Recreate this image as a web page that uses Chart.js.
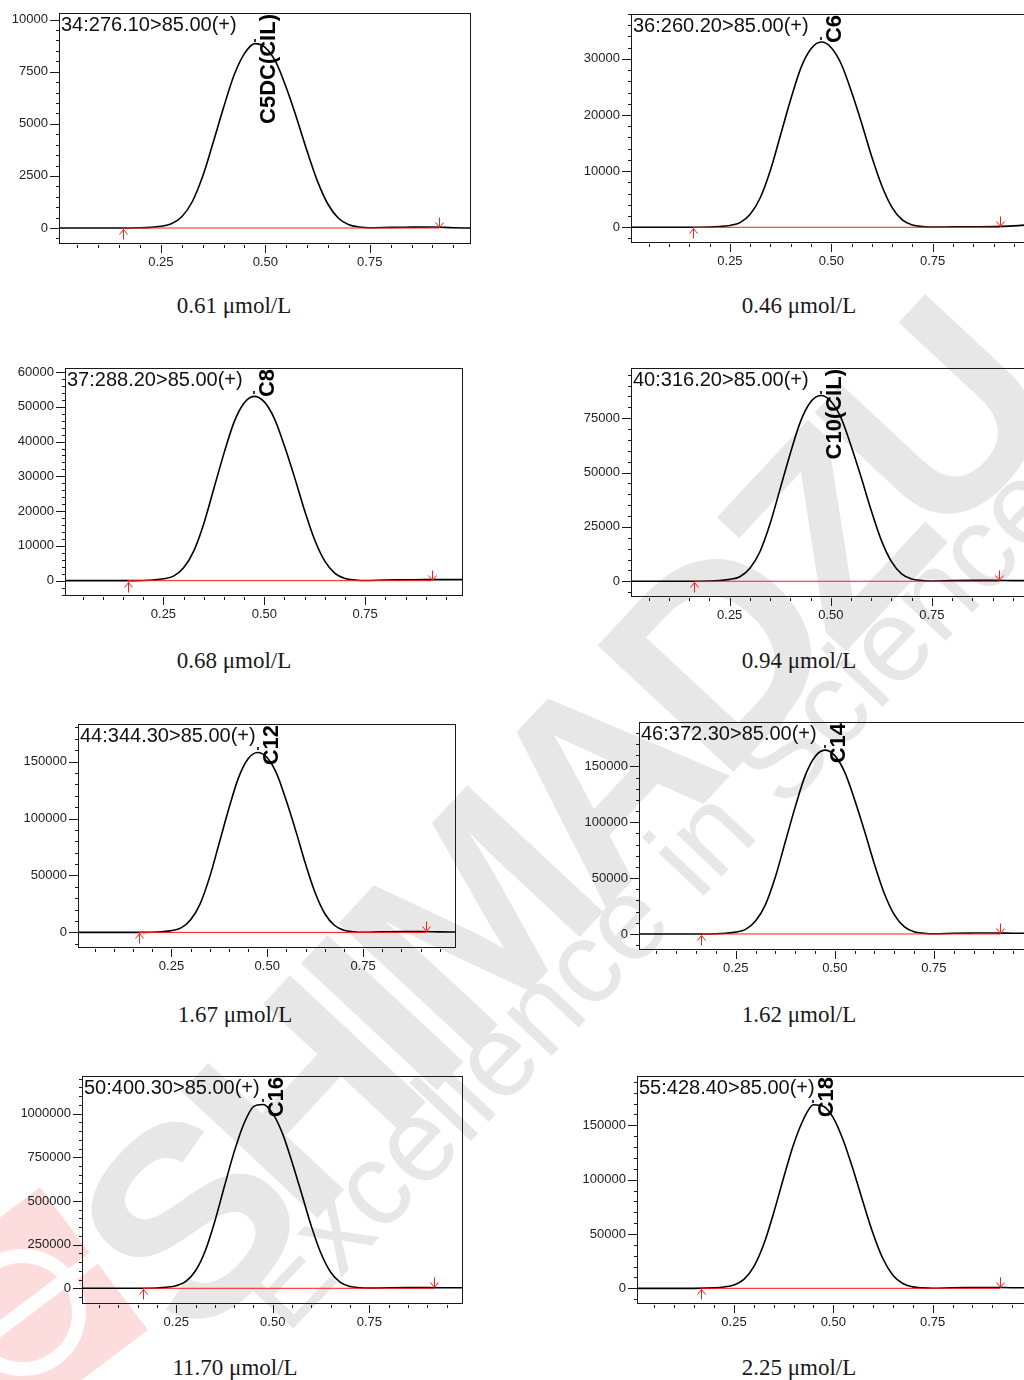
<!DOCTYPE html>
<html>
<head>
<meta charset="utf-8">
<script src="https://cdn.jsdelivr.net/npm/chart.js@4.4.1/dist/chart.umd.min.js"></script>
<style>
html,body{margin:0;padding:0;background:#fff;}
body{width:1024px;height:1380px;position:relative;overflow:hidden;}
.wm{position:absolute;white-space:nowrap;color:#e7e7e7;font-family:'Liberation Sans',Arial,sans-serif;line-height:1;transform-origin:0 50%;}
canvas{position:absolute;}
.cap{position:absolute;font-family:'Liberation Serif','Times New Roman',serif;font-size:23px;line-height:23px;color:#1a1a1a;transform:translateX(-50%);white-space:nowrap;}
#logo{position:absolute;left:-67px;top:1223px;width:179px;height:179px;background:#fcdcdc;transform:rotate(53deg);}
#logo .ring{position:absolute;left:26px;top:26px;width:99px;height:99px;border:14px solid #fff;border-radius:50%;}
#logo .bar{position:absolute;left:82px;top:0;width:14px;height:179px;background:#fff;}
</style>
</head>
<body>
<div id="logo"><div class="ring"></div><div class="bar"></div></div>
<div class="wm" style="left:128px;top:1150px;font-size:270px;letter-spacing:-20px;font-weight:bold;transform:rotate(-47deg);">SHIMADZU</div>
<div class="wm" style="left:257px;top:1249px;font-size:117px;transform:rotate(-46.5deg);">Excellence in Science</div>
<script>
// ---------- data ----------
const retentionTime = [0.00,0.05,0.10,0.15,0.20,0.225,0.25,0.275,0.30,0.325,0.35,0.375,0.40,0.425,0.45,0.475,0.50,0.525,0.55,0.575,0.60,0.625,0.65,0.675,0.70,0.725,0.75,0.80,0.85,0.90,0.95,0.99];

const intensityC5DC = [0,0,0,0,10,30,80,200,540,1260,2480,4100,5780,7330,8370,8850,8660,7970,6740,5270,3690,2240,1140,470,160,50,15,30,40,50,10,0];
const intensityC6   = [0,0,0,0,30,130,330,830,2300,5300,10200,16500,22800,28400,31800,33000,32000,29000,24100,18500,12500,7300,3500,1300,400,130,30,80,100,120,250,450];
const intensityC8   = [0,0,0,0,50,210,530,1300,3700,8500,16400,26500,36600,45600,51100,53000,51400,46600,38700,29700,20100,11700,5600,2100,640,210,50,200,250,300,300,300];
const intensityC10  = [0,0,0,0,90,340,850,2100,6000,13700,26500,42700,58900,73400,82400,85400,82800,75200,62300,47800,32500,18800,9000,3400,1000,340,90,300,400,400,300,300];
const intensityC12  = [0,0,0,0,160,630,1600,4000,11100,25300,49000,79000,109000,135900,152500,158000,153300,139000,115300,88500,60000,34800,16600,6300,1900,630,160,600,800,800,500,400];
const intensityC14  = [0,0,0,0,170,660,1650,4100,11500,26300,51000,82300,113500,141500,158700,164500,159600,144800,120100,92100,62500,36200,17300,6600,2000,660,170,600,800,900,700,600];
const intensityC16  = [0,0,0,0,2100,6000,14800,40200,100500,213700,384000,585000,780800,940600,1040000,1052000,999800,886600,721600,539600,354400,198900,92000,33900,10400,3600,1100,3000,4000,4000,3000,3000];
const intensityC18  = [0,0,0,0,440,1190,3060,8160,19900,40500,69500,101800,132300,155600,169000,167500,156900,136300,109100,79200,50500,27200,12100,4400,1360,430,90,600,700,800,600,600];

const peakNames = ["C5DC(CIL)","C6","C8","C10(CIL)","C12","C14","C16","C18"];
const transitions = ["34:276.10>85.00(+)","36:260.20>85.00(+)","37:288.20>85.00(+)","40:316.20>85.00(+)","44:344.30>85.00(+)","46:372.30>85.00(+)","50:400.30>85.00(+)","55:428.40>85.00(+)"];
const concentrations = ["0.61 μmol/L","0.46 μmol/L","0.68 μmol/L","0.94 μmol/L","1.67 μmol/L","1.62 μmol/L","11.70 μmol/L","2.25 μmol/L"];
const baselineStart = [0.159,0.159,0.161,0.161,0.164,0.1635,0.164,0.166];
const baselineEnd   = [0.916,0.9155,0.9145,0.917,0.915,0.918,0.917,0.919];
const yMin = [-720,-2625,-4120,-6780,-12800,-13460,-84100,-13500];
const yMax = [10320,38000,61150,98050,183000,189700,1215000,195400];
const yMajorStep = [2500,10000,10000,25000,50000,50000,250000,50000];
const yMinorStep = [500,2000,2000,5000,10000,10000,50000,10000];
const xMin = 0.006, xMax = 0.99, xMinorStep = 0.05, xMajorStep = 0.25;
const xTickLabels = ["0.25","0.50","0.75"];

const intensities = [intensityC5DC,intensityC6,intensityC8,intensityC10,intensityC12,intensityC14,intensityC16,intensityC18];

// ---------- layout (positions/sizes only) ----------
const panelBox = [ // left, top, width, height of plot frame
  [59,13,411,230],
  [631,14,399,228],
  [65,368,397,227],
  [631,368,398,228],
  [78,724,377,223],
  [639,722,390,227],
  [82,1076,380,227],
  [637,1076,391,227]
];
const captionPos = [[234,313],[799,313],[234,668],[799,668],[235,1022],[799,1022],[235,1375],[799,1375]];

const FONT = "'Liberation Sans', Arial, sans-serif";
const isMult = (v, step) => Math.abs(v/step - Math.round(v/step)) < 1e-6;

function stepTicks(min, max, step) {
  const out = [];
  for (let k = Math.ceil(min/step - 1e-9); k * step <= max + 1e-9; k++) {
    out.push({value: Math.round(k * step * 1e6) / 1e6});
  }
  return out;
}

const framePlugin = {
  id: 'frame',
  afterDraw(chart) {
    const i = chart.options.plugins.frame.index;
    const {ctx, chartArea: a, scales: {x, y}} = chart;
    ctx.save();
    const line = (x1,y1,x2,y2) => { ctx.beginPath(); ctx.moveTo(x1,y1); ctx.lineTo(x2,y2); ctx.stroke(); };
    // frame
    ctx.strokeStyle = '#1a1a1a'; ctx.lineWidth = 1;
    ctx.strokeRect(Math.round(a.left)+0.5, Math.round(a.top)+0.5, Math.round(a.right-a.left), Math.round(a.bottom-a.top));
    // y ticks
    y.ticks.forEach(t => {
      const py = Math.round(y.getPixelForValue(t.value)) + 0.5;
      const len = isMult(t.value, yMajorStep[i]) ? 9 : 3;
      line(Math.round(a.left) - len, py, Math.round(a.left), py);
    });
    // x ticks
    x.ticks.forEach(t => {
      const px = Math.round(x.getPixelForValue(t.value)) + 0.5;
      const len = isMult(t.value, xMajorStep) ? 8 : 3;
      const b = Math.round(a.bottom) + 2;
      line(px, b, px, b + len);
    });
    // baseline arrows
    ctx.strokeStyle = '#ff1a1a';
    const y0 = Math.round(y.getPixelForValue(0)) + 0.5;
    const xs = Math.round(x.getPixelForValue(baselineStart[i])) + 0.5;
    line(xs, y0+11, xs, y0+1); line(xs-4, y0+6, xs, y0+1); line(xs+4, y0+6, xs, y0+1);
    const xe = Math.round(x.getPixelForValue(baselineEnd[i])) + 0.5;
    line(xe, y0-11, xe, y0-1); line(xe-4, y0-6, xe, y0-1); line(xe+4, y0-6, xe, y0-1);
    // title
    ctx.fillStyle = '#111';
    ctx.font = '20px ' + FONT;
    ctx.textBaseline = 'alphabetic'; ctx.textAlign = 'left';
    ctx.fillText(transitions[i], a.left + 2, a.top + 18);
    // peak label
    const vals = intensities[i];
    let k = 0; vals.forEach((v, j) => { if (v > vals[k]) k = j; });
    const px = x.getPixelForValue(retentionTime[k]);
    const py = y.getPixelForValue(vals[k]);
    ctx.fillStyle = '#1f2a80';
    ctx.fillRect(Math.round(px) - 1, Math.round(py) - 5, 2, 3);
    ctx.save();
    ctx.translate(px + 20, a.top + 1);
    ctx.rotate(-Math.PI/2);
    ctx.textAlign = 'right';
    ctx.fillStyle = '#000';
    ctx.font = 'bold 22px ' + FONT;
    ctx.fillText(peakNames[i], 0, 0);
    ctx.restore();
    ctx.restore();
  }
};

const padT = 22, padR = 4, yW = 60, xH = 40;

function makePanel(i) {
  const [bl, bt, bw, bh] = panelBox[i];
  const canvas = document.createElement('canvas');
  const W = yW + bw + padR, H = padT + bh + xH;
  canvas.width = W; canvas.height = H;
  canvas.style.left = (bl - yW) + 'px';
  canvas.style.top = (bt - padT) + 'px';
  canvas.style.width = W + 'px';
  canvas.style.height = H + 'px';
  document.body.appendChild(canvas);

  const trace = retentionTime.map((t, j) => ({x: t, y: intensities[i][j]}));
  const base = [{x: baselineStart[i], y: 0}, {x: baselineEnd[i], y: 0}];

  new Chart(canvas, {
    type: 'line',
    data: {
      datasets: [
        {data: base, borderColor: '#ff1a1a', borderWidth: 1, pointRadius: 0, tension: 0},
        {data: trace, borderColor: '#000', borderWidth: 1.6, pointRadius: 0, cubicInterpolationMode: 'monotone'}
      ]
    },
    options: {
      responsive: false,
      animation: false,
      devicePixelRatio: 1,
      layout: {padding: {top: padT, right: padR, left: 0, bottom: 0}},
      plugins: {legend: {display: false}, tooltip: {enabled: false}, frame: {index: i}},
      scales: {
        x: {
          type: 'linear', min: xMin, max: xMax,
          grid: {display: false, drawTicks: false},
          border: {display: false},
          afterBuildTicks: s => { s.ticks = stepTicks(xMin, xMax, xMinorStep); },
          afterFit: s => { s.height = xH; },
          ticks: {
            autoSkip: false, maxRotation: 0, minRotation: 0,
            padding: 12, color: '#222', font: {family: FONT, size: 13},
            callback: v => {
              if (!isMult(v, xMajorStep)) return '';
              const m = Math.round(v / xMajorStep) - 1;
              return xTickLabels[m] !== undefined ? xTickLabels[m] : '';
            }
          }
        },
        y: {
          type: 'linear', min: yMin[i], max: yMax[i],
          grid: {display: false, drawTicks: false},
          border: {display: false},
          afterBuildTicks: s => { s.ticks = stepTicks(yMin[i], yMax[i], yMinorStep[i]); },
          afterFit: s => { s.width = yW; },
          ticks: {
            autoSkip: false,
            padding: 11, color: '#222', font: {family: FONT, size: 13},
            callback: v => isMult(v, yMajorStep[i]) ? String(Math.round(v)) : ''
          }
        }
      }
    },
    plugins: [framePlugin]
  });

  const cap = document.createElement('div');
  cap.className = 'cap';
  cap.textContent = concentrations[i];
  cap.style.left = captionPos[i][0] + 'px';
  cap.style.top = (captionPos[i][1] - 19) + 'px';
  document.body.appendChild(cap);
}

for (let i = 0; i < 8; i++) makePanel(i);
</script>
</body>
</html>
